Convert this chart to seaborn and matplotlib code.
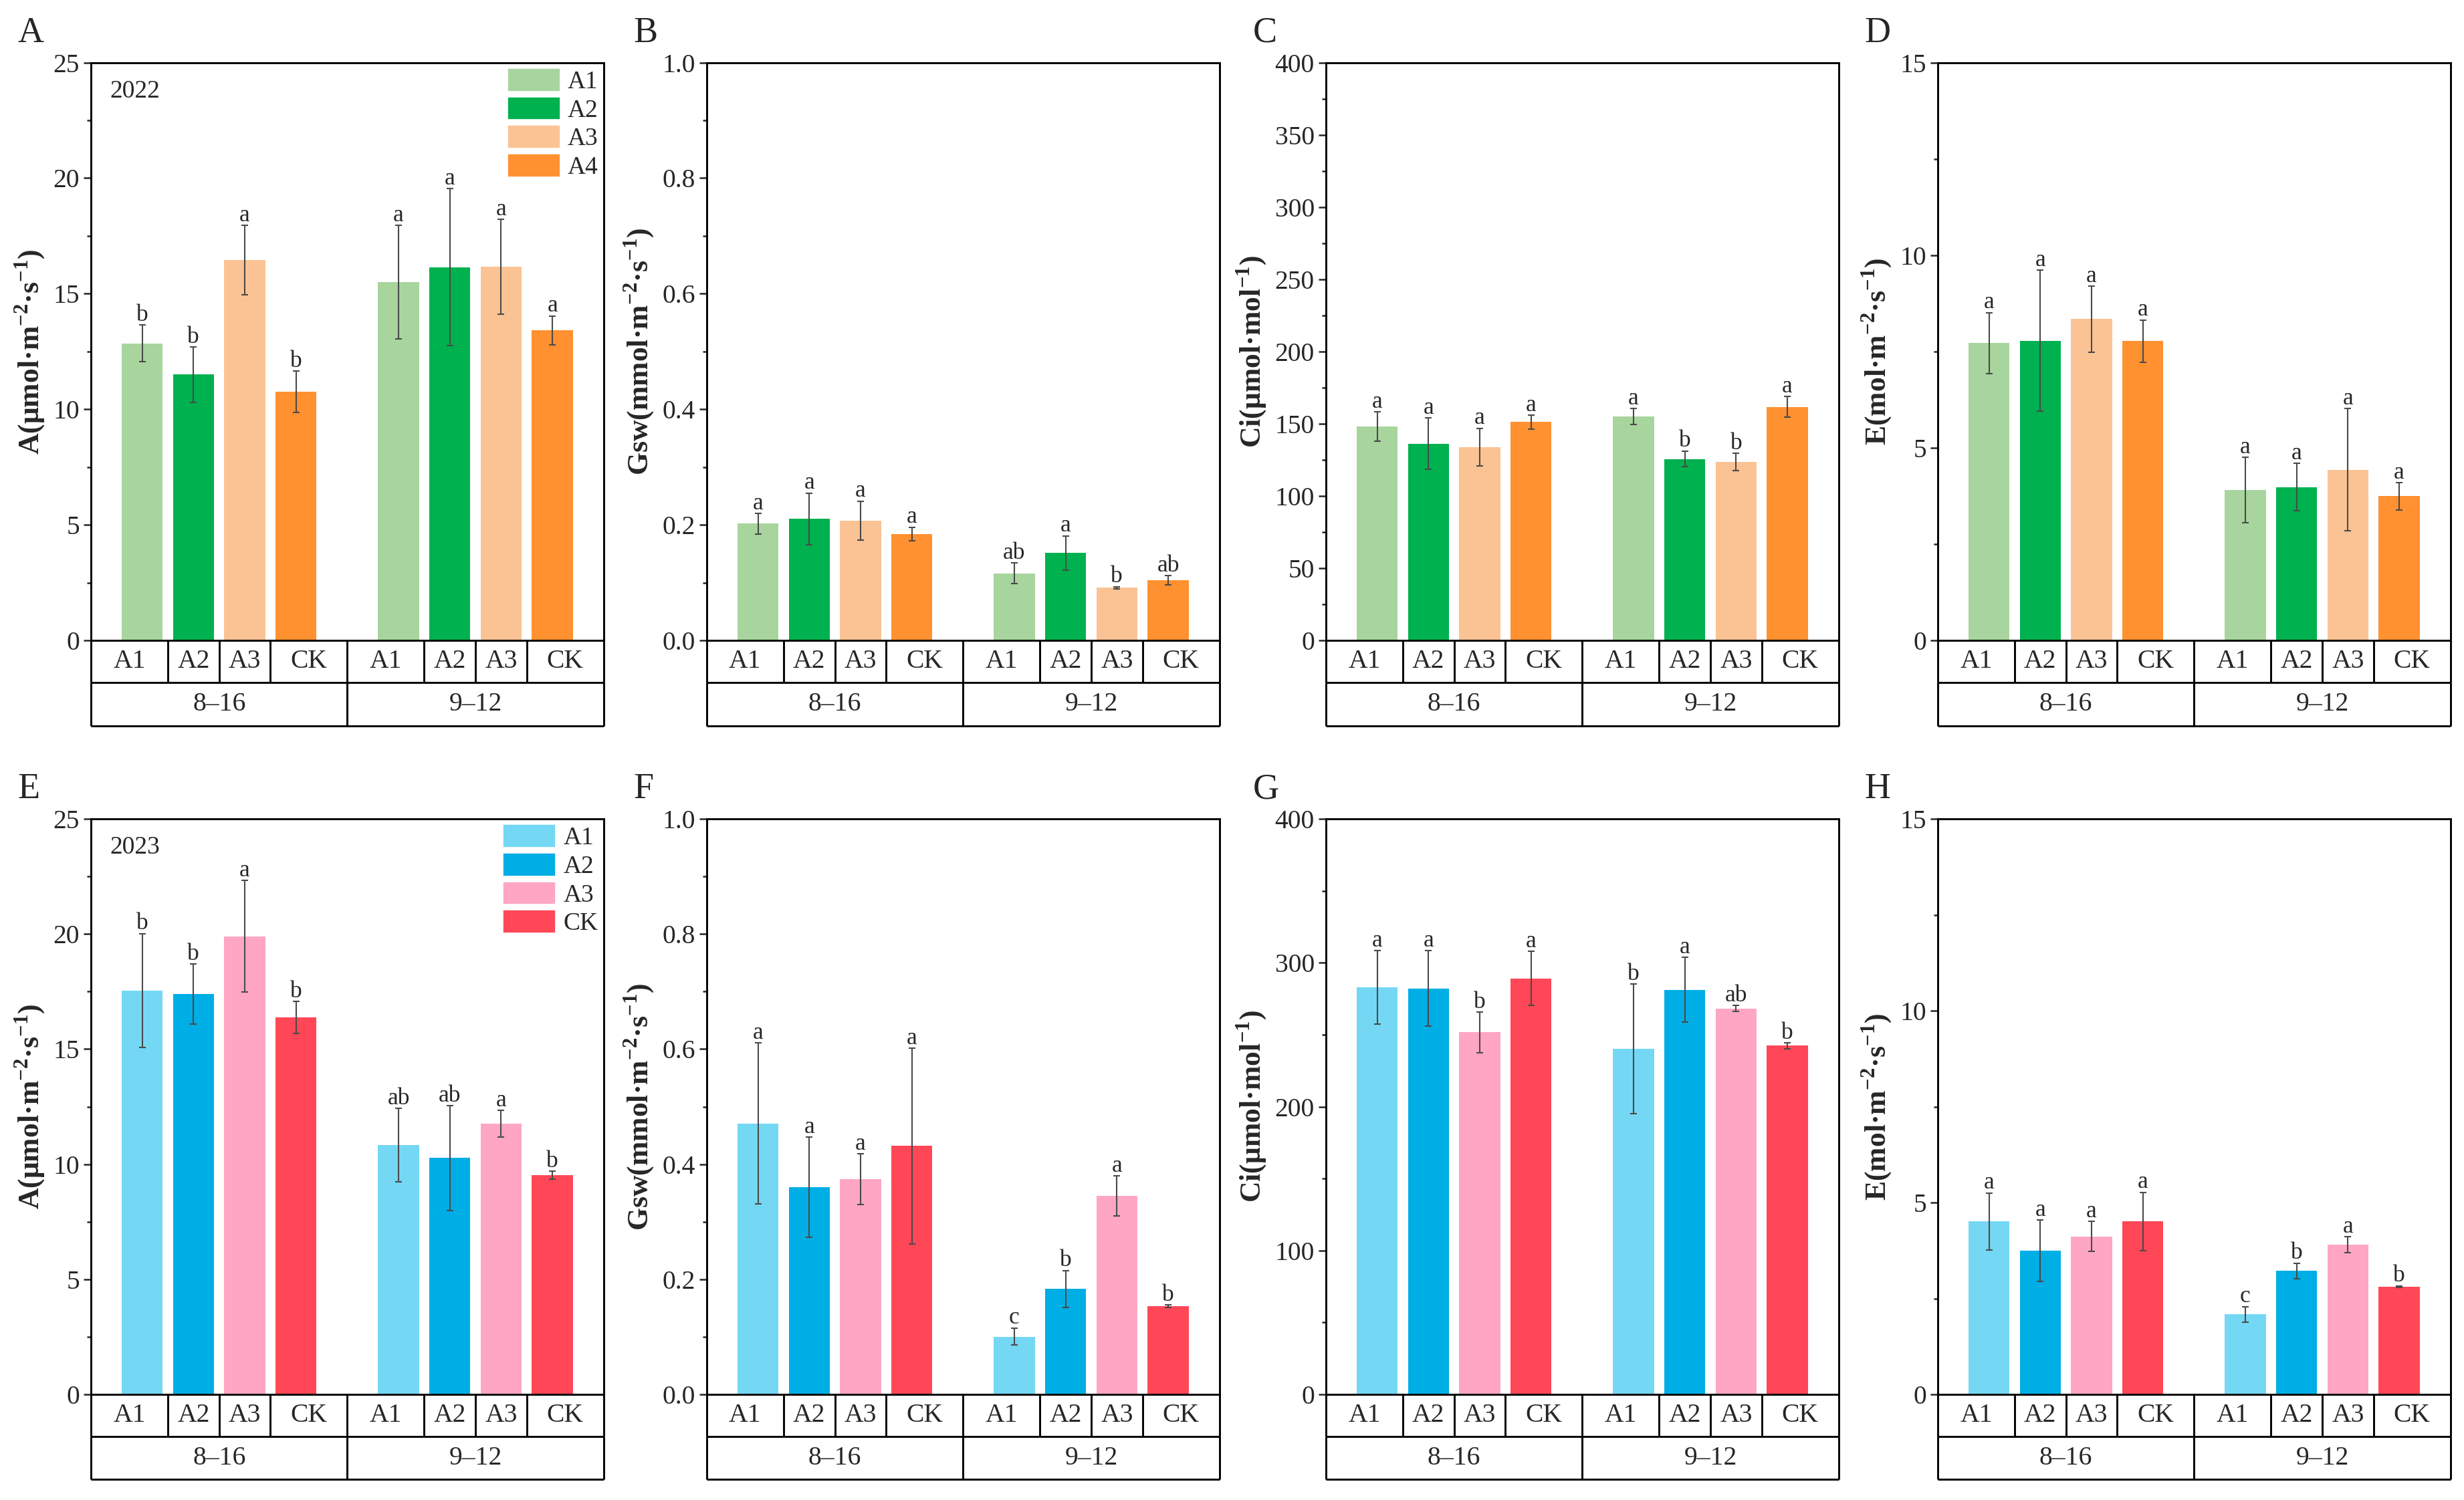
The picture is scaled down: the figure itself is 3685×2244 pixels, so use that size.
import numpy as np
import pandas as pd
import seaborn as sns
import matplotlib.pyplot as plt
from matplotlib.patches import Patch
from matplotlib.ticker import MultipleLocator

dates = ['8–16', '9–12']
treatments = ['A1', 'A2', 'A3', 'CK']

# values: 8–16 (A1, A2, A3, CK) then 9–12 (A1, A2, A3, CK)
a_2022 = [12.85, 11.5, 16.45, 10.75, 15.5, 16.14, 16.16, 13.41]
a_2022_err = [0.8, 1.2, 1.5, 0.9, 2.45, 3.4, 2.05, 0.63]
a_2022_sig = ['b', 'b', 'a', 'b', 'a', 'a', 'a', 'a']

gsw_2022 = [0.202, 0.21, 0.207, 0.184, 0.116, 0.151, 0.091, 0.104]
gsw_2022_err = [0.018, 0.045, 0.034, 0.012, 0.018, 0.03, 0.002, 0.008]
gsw_2022_sig = ['a', 'a', 'a', 'a', 'ab', 'a', 'b', 'ab']

ci_2022 = [148.1, 136.2, 133.9, 151.1, 155.0, 125.6, 123.6, 161.7]
ci_2022_err = [10.0, 17.7, 13.0, 4.8, 5.4, 5.5, 6.0, 7.3]
ci_2022_sig = ['a', 'a', 'a', 'a', 'a', 'b', 'b', 'a']

e_2022 = [7.72, 7.78, 8.34, 7.77, 3.9, 3.98, 4.43, 3.74]
e_2022_err = [0.79, 1.83, 0.86, 0.55, 0.85, 0.61, 1.59, 0.35]
e_2022_sig = ['a'] * 8

a_2023 = [17.55, 17.39, 19.9, 16.37, 10.83, 10.27, 11.76, 9.52]
a_2023_err = [2.47, 1.3, 2.43, 0.7, 1.59, 2.28, 0.57, 0.17]
a_2023_sig = ['b', 'b', 'a', 'b', 'ab', 'ab', 'a', 'b']

gsw_2023 = [0.4705, 0.36, 0.374, 0.4315, 0.1004, 0.1834, 0.345, 0.1535]
gsw_2023_err = [0.14, 0.087, 0.044, 0.17, 0.015, 0.032, 0.035, 0.002]
gsw_2023_sig = ['a', 'a', 'a', 'a', 'c', 'b', 'a', 'b']

ci_2023 = [282.8, 282.2, 251.6, 289.1, 240.3, 281.2, 268.2, 242.3]
ci_2023_err = [25.5, 26.2, 14.0, 18.8, 45.0, 22.6, 2.0, 2.0]
ci_2023_sig = ['a', 'a', 'b', 'a', 'b', 'a', 'ab', 'b']

e_2023 = [4.51, 3.75, 4.12, 4.51, 2.09, 3.22, 3.9, 2.81]
e_2023_err = [0.74, 0.8, 0.39, 0.76, 0.2, 0.2, 0.21, 0.02]
e_2023_sig = ['a', 'a', 'a', 'a', 'c', 'b', 'a', 'b']

legend_2022 = ['A1', 'A2', 'A3', 'A4']
legend_2023 = ['A1', 'A2', 'A3', 'CK']

colors_2022 = ['#A8D59E', '#00B14F', '#FBC394', '#FF9130']
colors_2023 = ['#74D8F4', '#00AEE6', '#FFA6C4', '#FF4757']

sns.set_style('ticks')
plt.rcParams['font.family'] = ['Liberation Serif', 'DejaVu Serif']
plt.rcParams['mathtext.fontset'] = 'custom'
plt.rcParams['mathtext.rm'] = 'Liberation Serif'
plt.rcParams['mathtext.bf'] = 'Liberation Serif:bold'
plt.rcParams['axes.linewidth'] = 0.7
plt.rcParams['axes.edgecolor'] = 'black'

# bar positions: four bars per date, one empty slot between dates
pos = [1 + i + 5 * d for d in range(len(dates)) for i in range(len(treatments))]

fig = plt.figure(figsize=(3685 / 300, 2244 / 300), dpi=300)

lefts = [0.0369, 0.2868, 0.5381, 0.7864]
w = 0.2081
rows = [(0.5731, 0.3852), (0.0704, 0.3837)]

panels = [
    # row 0 (2022)
    [(a_2022, a_2022_err, a_2022_sig, r'A(μmol·m$^{\mathbf{-2}}$·s$^{\mathbf{-1}}$)', 25, 5, 2.5),
     (gsw_2022, gsw_2022_err, gsw_2022_sig, r'Gsw(mmol·m$^{\mathbf{-2}}$·s$^{\mathbf{-1}}$)', 1.0, 0.2, 0.1),
     (ci_2022, ci_2022_err, ci_2022_sig, r'Ci(μmol·mol$^{\mathbf{-1}}$)', 400, 50, 25),
     (e_2022, e_2022_err, e_2022_sig, r'E(mol·m$^{\mathbf{-2}}$·s$^{\mathbf{-1}}$)', 15, 5, 2.5)],
    # row 1 (2023)
    [(a_2023, a_2023_err, a_2023_sig, r'A(μmol·m$^{\mathbf{-2}}$·s$^{\mathbf{-1}}$)', 25, 5, 2.5),
     (gsw_2023, gsw_2023_err, gsw_2023_sig, r'Gsw(mmol·m$^{\mathbf{-2}}$·s$^{\mathbf{-1}}$)', 1.0, 0.2, 0.1),
     (ci_2023, ci_2023_err, ci_2023_sig, r'Ci(μmol·mol$^{\mathbf{-1}}$)', 400, 100, 50),
     (e_2023, e_2023_err, e_2023_sig, r'E(mol·m$^{\mathbf{-2}}$·s$^{\mathbf{-1}}$)', 15, 5, 2.5)],
]
years = ['2022', '2023']
palettes = [colors_2022, colors_2023]
legends = [legend_2022, legend_2023]
letters = 'ABCDEFGH'


def draw_table(ax):
    tr = ax.get_xaxis_transform()
    r1, r2 = -0.073, -0.148
    kw = dict(transform=tr, clip_on=False, color='black', lw=0.7, solid_capstyle='butt')
    ax.plot([0, 10], [r1, r1], **kw)
    ax.plot([0, 10], [r2, r2], **kw)
    edges = []
    for d in range(len(dates)):
        g = pos[d * 4:(d + 1) * 4]
        lo, hi = 5 * d, 5 * (d + 1)
        cells = [lo] + [(g[i] + g[i + 1]) / 2 for i in range(3)] + [hi]
        for i, t in enumerate(treatments):
            ax.text((cells[i] + cells[i + 1]) / 2, r1 / 2, t, transform=tr,
                    ha='center', va='center', fontsize=9.5)
        ax.text((lo + hi) / 2, (r1 + r2) / 2, dates[d], transform=tr,
                ha='center', va='center', fontsize=9.5)
        edges += cells
        ax.plot([lo, lo], [r1, r2], **kw)
        ax.plot([hi, hi], [r1, r2], **kw)
    for xv in sorted(set(edges)):
        ax.plot([xv, xv], [0, r1], **kw)


k = 0
for r, (bottom, h) in enumerate(rows):
    for c in range(4):
        vals, errs, sig, ylab, ymax, major, minor = panels[r][c]
        ax = fig.add_axes([lefts[c], bottom, w, h])
        df = pd.DataFrame({'pos': pos, 'value': vals,
                           'treatment': treatments * len(dates)})
        sns.barplot(data=df, x='pos', y='value', hue='treatment',
                    palette=dict(zip(treatments, palettes[r])), native_scale=True,
                    dodge=False, width=0.8, errorbar=None, legend=False,
                    saturation=1, linewidth=0, ax=ax)
        ax.errorbar(pos, vals, yerr=errs, fmt='none', ecolor='#4a4a4a',
                    elinewidth=0.5, capsize=1.3, capthick=0.5)
        for x, v, e, s in zip(pos, vals, errs, sig):
            ax.annotate(s, (x, v + e), xytext=(0, 1.5), textcoords='offset points',
                        ha='center', va='baseline', fontsize=8.5)
        ax.set_xlim(0, 10)
        ax.set_ylim(0, ymax)
        ax.yaxis.set_major_locator(MultipleLocator(major))
        ax.yaxis.set_minor_locator(MultipleLocator(minor))
        ax.set_xticks([])
        ax.set_xlabel('')
        ax.set_ylabel(ylab, fontsize=10.5, fontweight='bold', labelpad=2)
        ax.tick_params(axis='y', which='major', length=2.6, width=0.6,
                       labelsize=9.5, pad=1.5, direction='out')
        ax.tick_params(axis='y', which='minor', length=1.5, width=0.6, direction='out')
        for sp in ax.spines.values():
            sp.set_visible(True)
            sp.set_linewidth(0.7)
        draw_table(ax)
        fig.text(lefts[c] - 0.0296, bottom + h + 0.0196, letters[k],
                 fontsize=13, ha='left', va='center')
        if c == 0:
            ax.text(0.0365, 0.95, years[r], transform=ax.transAxes,
                    ha='left', va='center', fontsize=9)
            handles = [Patch(facecolor=col, edgecolor='white', linewidth=0.4)
                       for col in palettes[r]]
            ax.legend(handles, legends[r], loc='upper right', frameon=False,
                      fontsize=9, handlelength=2.1, handleheight=1.05,
                      labelspacing=0.12, handletextpad=0.3, borderpad=0,
                      borderaxespad=0.22)
        k += 1

fig.savefig('out.png', dpi=300)
